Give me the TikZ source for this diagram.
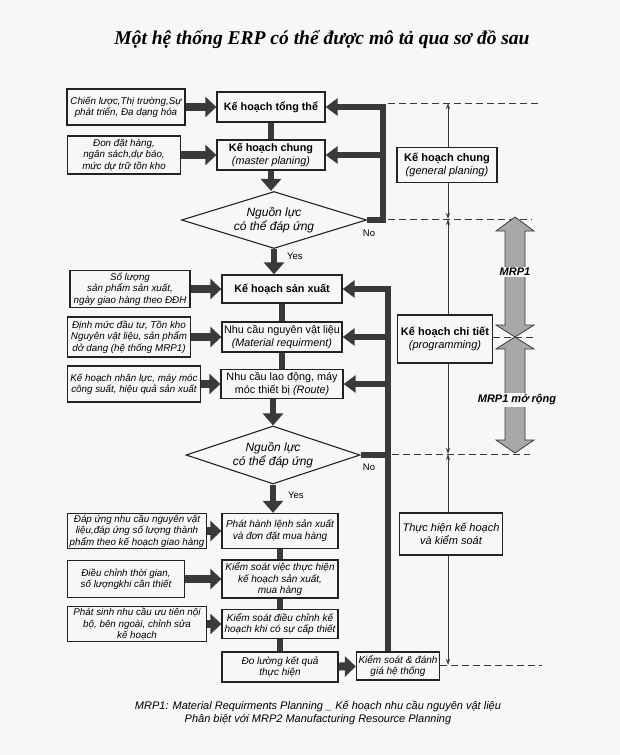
\documentclass[tikz,border=0pt]{standalone}
\usepackage{fontspec}
\setmainfont{Liberation Sans}
\newfontfamily\titlefont{Liberation Serif}
\usetikzlibrary{arrows.meta,shapes.geometric,calc}
\definecolor{bgc}{HTML}{F7F7F7}
\definecolor{cborder}{HTML}{222222}
\definecolor{cdark}{HTML}{3A3A3A}
\definecolor{mrpgray}{HTML}{A8A8A8}
\tikzset{
  boxbase/.style={draw=cborder, line width=1.3pt, fill=bgc, align=center, inner sep=0.5pt},
  mainbox/.style={boxbase, font=\fontsize{10.8}{12.5}\selectfont},
  lowbox/.style={boxbase, font=\fontsize{10}{11.8}\selectfont\itshape},
  leftbox/.style={boxbase, font=\fontsize{9.8}{11.3}\selectfont\itshape},
  rightbox/.style={boxbase, font=\fontsize{11}{13}\selectfont},
  decide/.style={diamond, draw=cborder, line width=1.1pt, fill=bgc, align=center, inner sep=0pt, shape aspect=3, font=\fontsize{12}{14}\selectfont\itshape},
  blockarrow/.style={draw=cdark, line width=8pt, -{Triangle[width=20pt,length=11pt]}},
  flowline/.style={draw=cdark, line width=6.5pt},
  flowarrow/.style={draw=cdark, line width=6.5pt, -{Triangle[width=20pt,length=12pt]}},
  fbline/.style={draw=cdark, line width=6pt, line join=miter},
  fbarrow/.style={draw=cdark, line width=6pt, line join=miter, -{Triangle[width=17pt,length=12pt]}},
  dashline/.style={draw=cdark, line width=0.9pt, dash pattern=on 7pt off 4pt},
  thinarrow/.style={draw=cdark, line width=0.8pt, -{Stealth[width=4pt,length=6pt]}},
  lbl/.style={font=\fontsize{9.5}{11}\selectfont, inner sep=1pt},
  mrp/.style={fill=mrpgray, draw=cdark, line width=0.8pt},
  mrplbl/.style={fill=bgc, inner sep=1.5pt, font=\fontsize{11}{13}\selectfont\bfseries\itshape}
}
\begin{document}
\begin{tikzpicture}[x=1pt,y=-1pt]
\fill[bgc] (0,0) rectangle (620,755);
\useasboundingbox (0,0) rectangle (620,755);

% title
\node (title) at (322,40) {\titlefont\bfseries\itshape\fontsize{19.5}{22}\selectfont Một hệ thống ERP có thể được mô tả qua sơ đồ sau};

% coordinates for the side lines
\coordinate (fa) at (383,0);
\coordinate (fb) at (388,0);
\coordinate (t0) at (448,103);
\coordinate (t1) at (448,219);
\coordinate (t2) at (448,454);
\coordinate (t3) at (448,665);

% main flow
\node[mainbox, minimum width=108pt, minimum height=30pt] (m1) at (271,107) {\bfseries Kế hoạch tổng thể};
\node[mainbox, minimum width=108pt, minimum height=30pt] (m2) at (271,155) {\bfseries Kế hoạch chung\\\itshape (master planing)};
\node[decide, minimum width=185pt, minimum height=57pt] (d1) at (274,220) {Nguồn lực\\có thể đáp ứng};
\node[mainbox, minimum width=120pt, minimum height=28pt] (m3) at (282,289) {\bfseries Kế hoạch sản xuất};
\node[mainbox, minimum width=120pt, minimum height=30pt] (m4) at (282,337) {Nhu cầu nguyên vật liệu\\\itshape (Material requirment)};
\node[mainbox, minimum width=122pt, minimum height=29pt] (m5) at (282,384) {Nhu cầu lao động, máy\\móc thiết bị \textit{(Route)}};
\node[decide, minimum width=174pt, minimum height=58pt] (d2) at (273,455) {Nguồn lực\\có thể đáp ứng};
\node[lowbox, minimum width=116pt, minimum height=35pt] (m6) at (280,531) {Phát hành lệnh sản xuất\\và đơn đặt mua hàng};
\node[lowbox, minimum width=116pt, minimum height=38pt] (m7) at (280,579) {Kiểm soát việc thực hiện\\kế hoạch sản xuất,\\mua hàng};
\node[lowbox, minimum width=116pt, minimum height=29pt] (m8) at (280,624) {Kiểm soát điều chỉnh kế\\hoạch khi có sự cấp thiết};
\node[lowbox, minimum width=116pt, minimum height=30pt] (m9) at (280,667) {Đo lường kết quả\\thực hiện};
\node[lowbox, minimum width=83pt, minimum height=28pt] (k) at (398,666) {Kiểm soát \& đánh\\giá hệ thống};

% left inputs
\node[leftbox, minimum width=118pt, minimum height=36pt] (l1) at (126,107) {Chiến lược,Thị trường,Sự\\phát triển, Đa dạng hóa};
\node[leftbox, minimum width=113pt, minimum height=38pt] (l2) at (124,155) {Đon đặt hàng,\\ngân sách,dự báo,\\mức dự trữ tồn kho};
\node[leftbox, minimum width=120pt, minimum height=37pt] (l3) at (130,289) {Số lượng\\sản phẩm sản xuất,\\ngày giao hàng theo ĐĐH};
\node[leftbox, minimum width=123pt, minimum height=40pt] (l4) at (129,337) {Định mức đầu tư, Tồn kho\\Nguyên vật liệu, sản phẩm\\dở dang (hệ thống MRP1)};
\node[leftbox, minimum width=133pt, minimum height=36pt] (l5) at (134,384) {Kế hoạch nhân lực, máy móc\\công suất, hiệu quả sản xuất};
\node[leftbox, minimum width=139pt, minimum height=35pt] (l6) at (137,531) {Đáp ứng nhu cầu nguyên vật\\liệu,đáp ứng số lượng thành\\phẩm theo kế hoạch giao hàng};
\node[leftbox, minimum width=117pt, minimum height=37pt] (l7) at (126,579) {Điều chỉnh thời gian,\\số lượngkhi cần thiết};
\node[leftbox, minimum width=139pt, minimum height=35pt] (l8) at (137,624) {Phát sinh nhu cầu ưu tiên nội\\bộ, bên ngoài, chỉnh sửa\\kế hoạch};

% right side boxes
\node[rightbox, minimum width=100pt, minimum height=35pt] (r1) at (447,165) {\bfseries Kế hoạch chung\\\itshape (general planing)};
\node[rightbox, minimum width=95pt, minimum height=48pt] (r2) at (445,339) {\bfseries Kế hoạch chi tiết\\\itshape (programming)};
\node[rightbox, minimum width=103pt, minimum height=42pt, font=\fontsize{11}{13}\selectfont\itshape] (r3) at (451,534) {Thực hiện kế hoạch\\và kiểm soát};

% flow connectors
\draw[flowline] (m1.south) -- (m2.north);
\draw[flowarrow] (m2.south) -- (d1.north -| m2.south);
\draw[flowarrow] (d1.south) -- (d1.south |- m3.north);
\draw[flowline] (m3.south) -- (m4.north);
\draw[flowline] (m4.south) -- (m5.north);
\draw[flowarrow] (d2.north |- m5.south) -- (d2.north);
\draw[flowarrow] (d2.south) -- (d2.south |- m6.north);
\draw[flowline] (m6.south) -- (m7.north);
\draw[flowline] (m7.south) -- (m8.north);
\draw[flowline] (m8.south) -- (m9.north);
\node[lbl, anchor=west] (yes1) at (286,256) {Yes};
\node[lbl, anchor=west] (yes2) at (287,495) {Yes};
\node[lbl] (no1) at (369,233) {No};
\node[lbl] (no2) at (369,467) {No};

% input arrows
\foreach \i in {1,...,8} {\draw[blockarrow] (l\i) -- (m\i);}
\draw[blockarrow] (m9) -- (k);

% feedback loop 1
\draw[fbarrow] (d1.east) -- (d1.east -| fa) -- (fa |- m1.east) -- (m1.east);
\draw[fbarrow] (fa |- m2.east) -- (m2.east);
% feedback loop 2
\draw[fbarrow] (k.north -| fb) -- (fb |- m3.east) -- (m3.east);
\draw[fbarrow] (fb |- m4.east) -- (m4.east);
\draw[fbarrow] (fb |- m5.east) -- (m5.east);
\draw[fbline] (d2.east) -- (d2.east -| fb);

% dashed level lines
\coordinate (e0) at (540,103);
\coordinate (e1) at (532,219);
\coordinate (e2) at (535,337);
\coordinate (e3) at (530,454);
\coordinate (e4) at (542,665);
\draw[dashline] (fa |- t0) ++(5,0) -- (e0);
\draw[dashline] (fa |- t1) ++(5,0) -- (e1);
\draw[dashline] (r2.east |- e2) -- (e2);
\draw[dashline] (fb |- t2) ++(4,0) -- (e3);
\draw[dashline] (k.east |- t3) -- (e4);

% thin level arrows
\draw[thinarrow] (t0 |- r1.north) -- (t0);
\draw[thinarrow] (t0 |- r1.south) -- (t1);
\draw[thinarrow] (t0 |- r2.north) -- (t1);
\draw[thinarrow] (t0 |- r2.south) -- (t2);
\draw[thinarrow] (t0 |- r3.north) -- (t2);
\draw[thinarrow] (t0 |- r3.south) -- (t3);

% MRP arrows
\draw[mrp] (515,217) -- (534,231) -- (525,231) -- (525,325) -- (534,325) -- (515,337) -- (496,325) -- (505,325) -- (505,231) -- (496,231) -- cycle;
\draw[mrp] (515,337) -- (534,349) -- (525,349) -- (525,440) -- (534,440) -- (515,453) -- (496,440) -- (505,440) -- (505,349) -- (496,349) -- cycle;
\node[mrplbl] (mrp1) at (515,272) {MRP1};
\node[mrplbl] (mrp2) at (517,400) {MRP1 mở rộng};

% caption
\node[align=center, font=\fontsize{11}{13.5}\selectfont\itshape] (cap) at (318,713) {MRP1: Material Requirments Planning \_ Kế hoạch nhu cầu nguyên vật liệu\\Phân biệt với MRP2 Manufacturing Resource Planning};
\end{tikzpicture}
\end{document}
